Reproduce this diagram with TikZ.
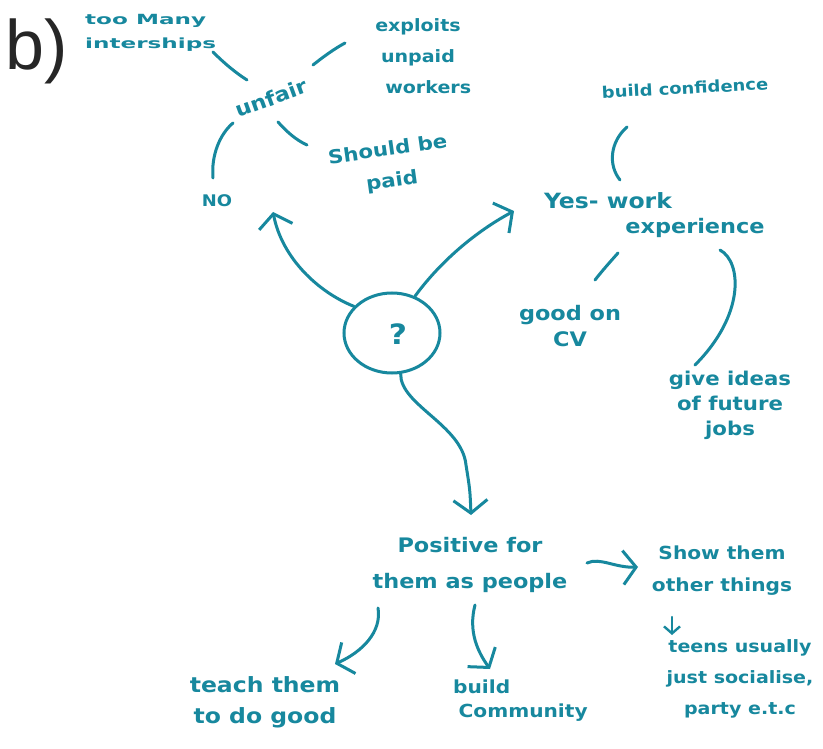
\documentclass[tikz,border=0pt]{standalone}
\usepackage{fontspec}
\newfontfamily\hw[FakeStretch=1.12]{DejaVu Sans}
\newfontfamily\hwwide[FakeStretch=1.65]{DejaVu Sans}
\newfontfamily\lab{Liberation Sans}
\usetikzlibrary{arrows.meta,shapes.geometric}
\definecolor{ink}{HTML}{17889E}
\newcommand\hwf[2]{\hw\bfseries\fontsize{#1}{#2}\selectfont}
\tikzset{
  hwt/.style={text=ink, inner sep=1pt, align=center},
  stroke/.style={draw=ink, line width=3pt, line cap=round, line join=round},
  arr/.style={stroke, -{Straight Barb[length=13pt,width=34pt]}},
  smallarr/.style={stroke, line width=2.4pt, -{Straight Barb[length=7pt,width=16pt]}},
}
\begin{document}
\begin{tikzpicture}[x=1pt,y=-1pt]
\useasboundingbox[fill=white] (0,0) rectangle (823,749);

% label
\node[anchor=base west, inner sep=0pt, font=\lab\fontsize{70}{70}\selectfont, text=black!85] (lbl) at (5,70) {b)};

% nodes
\node[hwt, anchor=west, align=left, font=\hwwide\bfseries\fontsize{14}{24}\selectfont] (intern) at (84,33) {too Many\\interships};
\node[hwt, font=\hwf{20}{26}, rotate=20] (unfair) at (271,98) {unfair};
\node[hwt, font=\hwf{17}{31}] (exploit) at (418,56) {exploits\\unpaid\\\hspace*{1.2em}workers};
\node[hwt, font=\hwf{19}{31}, rotate=8] (paid) at (390,166) {Should be\\paid};
\node[hwt, font=\hwf{16}{20}] (no) at (217,201) {NO};

\node[draw=ink, line width=3pt, ellipse, minimum width=96pt, minimum height=80pt, inner sep=0pt] (q) at (392,333) {};
\node[text=ink, font=\hw\bfseries\fontsize{28}{28}\selectfont, inner sep=0pt] (qm) at (398,334) {?};

\node[hwt, font=\hwf{16}{22}, rotate=3] (conf) at (685,88) {build confidence};
\node[hwt, font=\hwf{21}{28}] (yes) at (608,201) {Yes- work};
\node[hwt, font=\hwf{20}{28}] (exp) at (695,228) {experience};
\node[hwt, font=\hwf{20}{26}] (cv) at (570,326) {good on\\CV};
\node[hwt, font=\hwf{19}{25}] (ideas) at (730,405) {give ideas\\of future\\jobs};

\node[hwt, font=\hwf{20}{36}] (pos) at (470,565) {Positive for\\them as people};
\node[hwt, font=\hwf{18}{32}] (show) at (722,571) {Show them\\other things};
\node[hwt, font=\hwf{17}{31}] (teens) at (740,679) {teens usually\\just socialise,\\party e.t.c};
\node[hwt, font=\hwf{21}{31}] (teach) at (265,702) {teach them\\to do good};
\node[hwt, anchor=west, align=left, font=\hwf{18}{24}] (comm) at (452,701) {build\\\hspace*{0.3em}Community};

% free ends of the short strokes
\coordinate (l1a) at (213,52);  \coordinate (l1b) at (247,80);
\coordinate (l2a) at (313,65);  \coordinate (l2b) at (345,43);
\coordinate (l3a) at (278,122); \coordinate (l3b) at (307,145);
\coordinate (l4a) at (213,178); \coordinate (l4b) at (233,123);
\coordinate (l5a) at (627,127); \coordinate (l5b) at (620,180);
\coordinate (l6a) at (618,253); \coordinate (l6b) at (595,280);
\coordinate (l7a) at (720,250); \coordinate (l7b) at (695,365);
\coordinate (tno) at (273,212);
\coordinate (tyes) at (514,211);
\coordinate (tpos) at (471,515);
\coordinate (tteach) at (335,664);
\coordinate (tcomm) at (490,669);
\coordinate (tshow) at (638,567);
\coordinate (tteens) at (672,635);
\coordinate (spos1) at (378,608);
\coordinate (spos2) at (475,605);
\coordinate (spos3) at (587,563);
\coordinate (sshow) at (672,617);

% short strokes
\draw[stroke] (l1a) .. controls (225,64) and (236,73) .. (l1b);
\draw[stroke] (l2a) .. controls (323,57) and (334,49) .. (l2b);
\draw[stroke] (l3a) .. controls (287,132) and (296,140) .. (l3b);
\draw[stroke] (l4a) .. controls (211,155) and (220,134) .. (l4b);
\draw[stroke] (l5a) .. controls (610,142) and (608,165) .. (l5b);
\draw[stroke] (l6a) .. controls (610,262) and (602,271) .. (l6b);
\draw[stroke] (l7a) .. controls (742,262) and (745,315) .. (l7b);

% arrows from the question
\draw[arr] (q.145) .. controls (318,292) and (282,258) .. (tno);
\draw[arr] (q.58) .. controls (440,262) and (475,232) .. (tyes);
\draw[arr] (q.-78) .. controls (400,405) and (462,425) .. (466,465) .. controls (470,490) .. (tpos);

% arrows from "Positive for them as people"
\draw[arr] (spos1) .. controls (382,632) and (362,652) .. (tteach);
\draw[arr] (spos2) .. controls (468,632) and (478,652) .. (tcomm);
\draw[arr] (spos3) .. controls (600,557) and (615,568) .. (tshow);
\draw[smallarr] (sshow) -- (tteens);
\end{tikzpicture}
\end{document}
